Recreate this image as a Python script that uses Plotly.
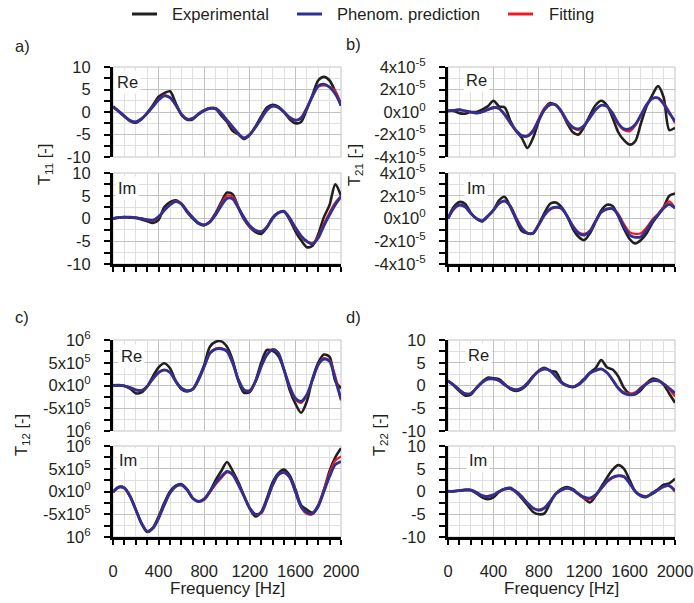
import plotly.graph_objects as go

W, H = 694, 603

FREQ = [0, 50, 100, 150, 200, 250, 300, 350, 400, 450, 500, 550, 600, 650, 700, 750, 800,
        850, 900, 950, 1000, 1050, 1100, 1150, 1200, 1250, 1300, 1350, 1400, 1450, 1500,
        1550, 1600, 1650, 1700, 1750, 1800, 1850, 1900, 1950, 2000]

# ---- T11 (a) ----
A_RE_EXP = [1.2, 0.1, -1.0, -2.0, -2.4, -1.6, -0.2, 1.5, 3.4, 4.2, 4.6, 2.0, -0.6, -1.7, -1.6, -0.4, 0.4, 0.8, 0.7, -0.8,
            -2.2, -4.2, -5.0, -6.0, -5.1, -3.2, -1.0, 1.0, 1.6, 1.2, 0.0, -1.6, -2.5, -2.2, 0.6, 3.8, 7.0, 7.8, 7.0, 4.5, 1.4]
A_RE_PHE = [1.2, 0.2, -0.9, -1.9, -2.2, -1.5, -0.3, 1.2, 2.7, 3.6, 3.2, 1.6, -0.5, -1.6, -1.4, -0.5, 0.3, 0.8, 0.8, -0.3,
            -1.8, -3.3, -4.8, -5.8, -5.0, -3.4, -1.5, 0.4, 1.3, 1.0, 0.0, -1.2, -1.8, -1.4, 0.8, 3.5, 5.8, 6.2, 5.5, 4.0, 1.6]
A_RE_FIT = [1.1, 0.2, -0.9, -1.9, -2.2, -1.5, -0.3, 1.2, 2.8, 3.7, 3.2, 1.5, -0.5, -1.5, -1.4, -0.5, 0.4, 0.9, 0.8, -0.4,
            -2.0, -3.5, -4.9, -5.7, -4.9, -3.3, -1.4, 0.5, 1.3, 1.0, -0.1, -1.3, -1.9, -1.2, 1.0, 3.6, 5.6, 5.9, 5.6, 4.6, 1.8]
A_IM_EXP = [0.0, 0.2, 0.3, 0.2, 0.1, -0.2, -0.6, -1.0, -0.3, 2.5, 3.6, 4.0, 3.2, 1.4, 0.0, -1.1, -1.5, -0.7, 1.2, 3.6,
            5.7, 5.3, 2.4, -0.2, -1.9, -3.0, -3.4, -2.0, 0.2, 1.3, 1.6, -0.3, -2.8, -4.8, -6.3, -6.0, -3.5, 0.3, 3.0, 7.5, 5.0]
A_IM_PHE = [0.0, 0.2, 0.3, 0.3, 0.2, 0.0, -0.3, -0.4, 0.4, 1.8, 3.0, 3.7, 3.2, 1.6, 0.2, -1.0, -1.4, -0.8, 0.8, 2.8,
            4.4, 4.3, 2.3, 0.2, -1.6, -2.6, -2.9, -1.9, 0.0, 1.2, 1.5, 0.1, -2.0, -3.8, -5.0, -5.6, -4.3, -1.6, 0.8, 3.0, 4.8]
A_IM_FIT = [0.0, 0.2, 0.3, 0.3, 0.2, 0.0, -0.3, -0.5, 0.3, 1.8, 3.1, 3.8, 3.3, 1.6, 0.1, -1.0, -1.4, -0.7, 1.0, 3.2,
            5.0, 4.8, 2.5, 0.0, -1.8, -2.7, -2.8, -1.8, 0.1, 1.3, 1.5, 0.0, -2.2, -4.0, -5.1, -5.4, -4.0, -1.2, 1.3, 3.5, 4.9]

# ---- T21 (b), values in units of 1e-5 ----
B_UNIT = 1e-5
B_RE_EXP = [0.1, 0.1, -0.1, -0.15, 0.0, 0.0, 0.2, 0.5, 1.0, 0.5, 0.4, -0.8, -1.7, -2.3, -3.2, -2.3, -0.8, 0.3, 0.8, 0.6,
            0.0, -1.0, -1.8, -2.0, -1.3, -0.3, 0.6, 1.0, 0.6, -0.5, -1.8, -2.5, -2.9, -2.6, -1.0, 0.5, 1.5, 2.3, 1.3, -1.6, -1.4]
B_RE_PHE = [0.1, 0.15, 0.2, 0.1, 0.0, -0.1, 0.0, 0.2, 0.4, 0.3, -0.25, -1.0, -1.65, -2.1, -2.15, -1.7, -0.7, 0.2, 0.65, 0.65,
            0.05, -0.8, -1.35, -1.5, -1.2, -0.5, 0.2, 0.6, 0.5, -0.1, -1.0, -1.5, -1.5, -1.1, -0.25, 0.65, 1.2, 1.25, 0.7, -0.1, -0.8]
B_RE_FIT = [0.1, 0.15, 0.2, 0.1, 0.0, -0.1, 0.0, 0.2, 0.35, 0.3, -0.2, -1.0, -1.7, -2.1, -2.1, -1.6, -0.6, 0.3, 0.7, 0.6,
            0.0, -0.9, -1.4, -1.6, -1.2, -0.5, 0.2, 0.6, 0.5, -0.2, -1.1, -1.6, -1.7, -1.2, -0.3, 0.6, 1.2, 1.25, 0.8, 0.0, -1.0]
B_IM_EXP = [0.0, 1.0, 1.45, 1.3, 0.5, 0.0, -0.25, 0.2, 0.7, 1.6, 1.9, 1.0, -0.1, -1.1, -1.3, -1.3, -0.5, 0.5, 1.3, 1.4,
            1.0, 0.2, -0.9, -1.6, -1.9, -1.3, -0.3, 0.7, 1.2, 1.1, 0.2, -0.9, -1.8, -2.2, -1.9, -1.3, -0.4, 0.3, 1.0, 2.0, 2.2]
B_IM_PHE = [0.0, 0.85, 1.2, 1.05, 0.45, 0.0, -0.2, 0.2, 0.75, 1.35, 1.55, 1.05, 0.0, -0.85, -1.3, -1.3, -0.55, 0.3, 0.85, 1.0,
            0.9, 0.2, -0.7, -1.3, -1.45, -1.15, -0.25, 0.55, 0.85, 0.85, 0.3, -0.7, -1.45, -1.65, -1.6, -1.0, -0.25, 0.3, 0.9, 1.25, 0.9]
B_IM_FIT = [0.0, 0.8, 1.15, 1.0, 0.45, 0.0, -0.2, 0.2, 0.7, 1.3, 1.5, 1.1, 0.1, -0.8, -1.25, -1.25, -0.5, 0.3, 0.8, 0.95,
            0.85, 0.2, -0.6, -1.2, -1.35, -1.05, -0.2, 0.55, 0.8, 0.85, 0.4, -0.5, -1.2, -1.35, -1.3, -0.8, -0.1, 0.4, 1.0, 1.5, 0.9]

# ---- T12 (c), values in units of 1e5 ----
C_UNIT = 1e5
C_RE_EXP = [0.0, 0.0, -0.1, -0.7, -1.7, -1.5, -0.2, 2.0, 4.0, 4.9, 3.8, 1.0, -0.8, -1.3, -0.8, 1.5, 4.5, 8.5, 9.6, 9.7,
            8.5, 5.5, 1.0, -1.6, -1.4, 1.0, 5.0, 7.8, 7.6, 6.5, 3.5, -1.0, -4.0, -6.0, -3.5, 1.5, 5.0, 6.8, 6.3, 1.0, -0.6]
C_RE_PHE = [0.0, 0.05, -0.1, -0.45, -0.95, -1.1, -0.2, 1.5, 2.9, 3.45, 2.85, 0.9, -0.6, -1.15, -0.8, 1.25, 4.2, 7.1, 8.0, 8.05,
            7.5, 4.9, 1.25, -0.95, -1.1, 0.9, 4.2, 6.75, 7.85, 7.1, 3.45, -0.2, -2.8, -3.5, -2.05, 1.25, 4.55, 5.8, 5.3, 1.25, -3.0]
C_RE_FIT = [0.0, 0.05, -0.1, -0.5, -1.0, -1.1, -0.2, 1.4, 2.8, 3.4, 2.9, 1.0, -0.6, -1.2, -0.8, 1.2, 4.1, 7.0, 8.1, 8.2,
            7.6, 5.0, 1.3, -1.0, -1.2, 0.8, 4.1, 6.8, 8.0, 7.2, 3.4, -0.4, -3.0, -3.8, -2.2, 1.2, 4.6, 6.0, 5.5, 2.0, -3.3]
C_IM_EXP = [-0.15, 1.0, 0.8, -1.0, -4.0, -7.0, -8.9, -8.0, -5.5, -2.5, 0.0, 1.3, 1.6, 0.5, -1.5, -2.2, -1.6, 0.0, 2.5, 4.5,
            6.5, 4.5, 2.0, -1.0, -3.8, -5.5, -4.5, -1.5, 2.0, 4.0, 4.8, 3.5, 0.5, -3.0, -4.0, -4.7, -3.0, 0.3, 4.5, 7.5, 9.5]
C_IM_PHE = [-0.15, 0.95, 0.75, -1.1, -4.0, -7.0, -8.8, -8.1, -5.9, -2.95, -0.35, 1.1, 1.45, 0.35, -1.5, -2.2, -1.7, 0.0, 1.85, 3.3,
            4.4, 3.7, 1.45, -1.1, -3.7, -5.0, -4.6, -1.85, 1.45, 3.7, 4.2, 3.15, 0.0, -3.3, -4.6, -4.8, -3.3, 0.0, 3.3, 5.9, 6.6]
C_IM_FIT = [-0.15, 0.9, 0.7, -1.1, -4.0, -6.9, -8.7, -8.0, -5.8, -2.9, -0.3, 1.1, 1.4, 0.3, -1.5, -2.2, -1.8, -0.2, 1.6, 3.0,
            4.2, 3.8, 1.6, -1.0, -3.6, -5.0, -4.8, -2.0, 1.3, 3.6, 4.1, 3.0, -0.2, -3.5, -4.9, -5.0, -3.2, 0.4, 4.0, 6.8, 7.7]

# ---- T22 (d) ----
D_RE_EXP = [1.0, 0.0, -1.2, -2.2, -2.0, -0.5, 0.8, 1.7, 1.6, 1.4, 0.3, -0.8, -1.2, -0.8, 0.3, 2.0, 3.3, 3.9, 3.2, 3.0,
            0.8, 0.0, -0.3, 0.3, 1.5, 2.8, 3.8, 5.6, 4.0, 3.5, 2.0, -0.5, -1.8, -1.9, -1.0, 0.5, 1.5, 1.2, 0.2, -1.8, -3.8]
D_RE_PHE = [1.0, 0.15, -0.95, -1.8, -1.8, -0.6, 0.65, 1.4, 1.45, 1.1, 0.15, -0.6, -0.95, -0.6, 0.5, 2.0, 3.1, 3.6, 3.3, 2.0,
            0.65, -0.05, -0.35, 0.15, 1.25, 2.7, 3.3, 3.65, 2.85, 1.25, -0.6, -1.7, -2.05, -1.8, -0.6, 0.35, 1.0, 1.0, 0.35, -0.6, -1.7]
D_RE_FIT = [1.0, 0.1, -1.0, -1.8, -1.7, -0.5, 0.7, 1.4, 1.4, 1.0, 0.1, -0.6, -0.9, -0.5, 0.6, 2.1, 3.2, 3.7, 3.3, 1.9,
            0.6, -0.1, -0.3, 0.2, 1.3, 2.7, 3.3, 3.6, 2.8, 1.2, -0.5, -1.5, -1.8, -1.5, -0.4, 0.5, 1.1, 1.1, 0.4, -0.8, -2.4]
D_IM_EXP = [0.0, 0.05, 0.2, 0.35, 0.3, -0.4, -1.3, -1.7, -1.3, -0.1, 0.6, 0.8, -0.2, -1.5, -3.0, -4.5, -5.0, -4.8, -2.5, -0.5,
            0.6, 1.0, 0.5, -0.6, -1.5, -2.4, -1.0, 1.0, 3.0, 4.8, 5.8, 5.0, 2.5, 0.0, -1.0, -1.2, -0.3, 0.5, 1.5, 1.8, 2.8]
D_IM_PHE = [0.05, 0.05, 0.2, 0.35, 0.35, -0.2, -0.9, -1.1, -0.75, 0.0, 0.5, 0.65, 0.0, -1.1, -2.55, -3.65, -4.15, -3.65, -2.2, -0.5,
            0.35, 0.75, 0.35, -0.5, -1.25, -1.45, -0.75, 0.75, 2.2, 3.15, 3.5, 3.3, 1.8, 0.0, -0.9, -1.1, -0.5, 0.35, 1.1, 1.25, 0.2]
D_IM_FIT = [0.05, 0.05, 0.2, 0.3, 0.3, -0.2, -0.9, -1.0, -0.7, 0.0, 0.5, 0.6, -0.1, -1.2, -2.6, -3.7, -4.0, -3.5, -2.1, -0.5,
            0.3, 0.7, 0.3, -0.6, -1.4, -1.7, -0.9, 0.6, 2.1, 3.0, 3.4, 3.2, 1.8, 0.0, -0.8, -1.0, -0.5, 0.3, 1.0, 1.3, -0.1]

X_TICKS = [0, 400, 800, 1200, 1600, 2000]
X_TICKTEXT = ['0', '400', '800', '1200', '1600', '2000']

SERIES_NAMES = ['Experimental', 'Phenom. prediction', 'Fitting']
C_EXP, C_PHE, C_FIT = '#231f20', '#2e3192', '#ed1c24'
TXT = '#231f20'
GRID_MAJ, GRID_MIN = '#c2c2c2', '#e0e0e0'
FONT = 'Liberation Sans, Arial, sans-serif'


def px(x):
    return x / W


def py(y):
    return 1 - y / H


XA = [px(113), px(341)]
XB = [px(448), px(675)]
Y_RE_T = [py(157), py(67)]
Y_IM_T = [py(264), py(173)]
Y_RE_B = [py(431), py(340)]
Y_IM_B = [py(537), py(446)]

panels = [
    dict(letter='a)', xdom=XA, ydoms=(Y_RE_T, Y_IM_T), unit=1.0,
         re=(A_RE_EXP, A_RE_PHE, A_RE_FIT), im=(A_IM_EXP, A_IM_PHE, A_IM_FIT),
         yr=10, tv=[-10, -5, 0, 5, 10], tt=['-10', '-5', '0', '5', '10'], minor=2.5,
         ylabel='T<sub>11</sub> [-]', ylab_xy=(45, 165), letter_xy=(22, 46),
         re_xy=(127, 82), im_xy=(127, 188), bottom=False),
    dict(letter='b)', xdom=XB, ydoms=(Y_RE_T, Y_IM_T), unit=B_UNIT,
         re=(B_RE_EXP, B_RE_PHE, B_RE_FIT), im=(B_IM_EXP, B_IM_PHE, B_IM_FIT),
         yr=4e-5, tv=[-4e-5, -2e-5, 0, 2e-5, 4e-5],
         tt=['-4x10<sup>-5</sup>', '-2x10<sup>-5</sup>', '0x10<sup>0</sup>', '2x10<sup>-5</sup>', '4x10<sup>-5</sup>'],
         minor=1e-5, ylabel='T<sub>21</sub> [-]', ylab_xy=(355, 165), letter_xy=(353, 44),
         re_xy=(477, 80), im_xy=(476, 188), bottom=False),
    dict(letter='c)', xdom=XA, ydoms=(Y_RE_B, Y_IM_B), unit=C_UNIT,
         re=(C_RE_EXP, C_RE_PHE, C_RE_FIT), im=(C_IM_EXP, C_IM_PHE, C_IM_FIT),
         yr=1e6, tv=[-1e6, -5e5, 0, 5e5, 1e6],
         tt=['10<sup>6</sup>', '-5x10<sup>5</sup>', '0x10<sup>0</sup>', '5x10<sup>5</sup>', '10<sup>6</sup>'],
         minor=2.5e5, ylabel='T<sub>12</sub> [-]', ylab_xy=(22, 435), letter_xy=(22, 317),
         re_xy=(131, 356), im_xy=(128, 460), bottom=True),
    dict(letter='d)', xdom=XB, ydoms=(Y_RE_B, Y_IM_B), unit=1.0,
         re=(D_RE_EXP, D_RE_PHE, D_RE_FIT), im=(D_IM_EXP, D_IM_PHE, D_IM_FIT),
         yr=10, tv=[-10, -5, 0, 5, 10], tt=['-10', '-5', '0', '5', '10'], minor=2.5,
         ylabel='T<sub>22</sub> [-]', ylab_xy=(380, 435), letter_xy=(353, 317),
         re_xy=(478, 355), im_xy=(478, 460), bottom=True),
]

fig = go.Figure()
layout = dict(width=W, height=H, margin=dict(l=0, r=0, t=0, b=0, autoexpand=False),
              paper_bgcolor='white', plot_bgcolor='white', showlegend=False,
              font=dict(family=FONT, size=16.5, color=TXT))
shapes = []
annotations = []

n = 0
for p in panels:
    for part, ydom in zip(('re', 'im'), p['ydoms']):
        n += 1
        sfx = '' if n == 1 else str(n)
        xa, ya = 'x' + sfx, 'y' + sfx
        exp, phe, fit = p[part]
        u = p['unit']
        for vals, color, width, shape in ((exp, C_EXP, 2.6, 'spline'),
                                          (fit, C_FIT, 2.3, 'spline'),
                                          (phe, C_PHE, 2.8, 'spline')):
            fig.add_trace(go.Scatter(x=FREQ, y=[v * u for v in vals], mode='lines',
                                     line=dict(color=color, width=width, shape=shape,
                                               smoothing=0.8),
                                     xaxis=xa, yaxis=ya, hoverinfo='skip'))
        is_im = part == 'im'
        xkey, ykey = 'xaxis' + sfx, 'yaxis' + sfx
        xdef = dict(domain=p['xdom'], anchor=ya, range=[0, 2000], fixedrange=True,
                    automargin=False,
                    tickmode='array', tickvals=X_TICKS, ticktext=X_TICKTEXT,
                    showgrid=True, gridcolor=GRID_MAJ, gridwidth=1, zeroline=False,
                    minor=dict(tickmode='linear', tick0=0, dtick=100, showgrid=True,
                               gridcolor=GRID_MIN, gridwidth=1,
                               ticks='outside' if is_im else '', ticklen=5, tickwidth=2,
                               tickcolor='black'))
        if is_im:
            xdef.update(showline=True, linecolor='black', linewidth=3, ticks='outside',
                        ticklen=5, tickwidth=2, tickcolor='black',
                        showticklabels=p['bottom'], ticklabelstandoff=12,
                        tickfont=dict(size=16.5, color=TXT))
        else:
            xdef.update(showline=False, ticks='', showticklabels=False)
        ydef = dict(domain=ydom, anchor=xa, range=[-p['yr'], p['yr']], fixedrange=True,
                    automargin=False,
                    tickmode='array', tickvals=p['tv'], ticktext=p['tt'],
                    showgrid=True, gridcolor=GRID_MAJ, gridwidth=1, zeroline=False,
                    showline=True, linecolor='black', linewidth=3,
                    ticks='outside', ticklen=6, tickwidth=2, tickcolor='black',
                    ticklabelstandoff=10, tickfont=dict(size=16.5, color=TXT),
                    minor=dict(tickmode='linear', tick0=0, dtick=p['minor'], showgrid=True,
                               gridcolor=GRID_MIN, gridwidth=1, ticks='outside',
                               ticklen=6, tickwidth=2, tickcolor='black'))
        layout[xkey] = xdef
        layout[ykey] = ydef
        shapes.append(dict(type='rect', xref=xa + ' domain', yref=ya + ' domain',
                           x0=0, x1=1, y0=0, y1=1, line=dict(color=GRID_MAJ, width=1),
                           layer='below'))
        cx, cy = p['re_xy'] if part == 're' else p['im_xy']
        annotations.append(dict(x=px(cx), y=py(cy), xref='paper', yref='paper',
                                text='Re' if part == 're' else 'Im', showarrow=False,
                                xanchor='center', yanchor='middle', bgcolor='white',
                                borderpad=2, font=dict(size=16.5, color=TXT)))
    lx, ly = p['ylab_xy']
    annotations.append(dict(x=px(lx), y=py(ly), xref='paper', yref='paper', text=p['ylabel'],
                            textangle=-90, showarrow=False, xanchor='center', yanchor='middle',
                            font=dict(size=16.5, color=TXT)))
    tx, ty = p['letter_xy']
    annotations.append(dict(x=px(tx), y=py(ty), xref='paper', yref='paper', text=p['letter'],
                            showarrow=False, xanchor='center', yanchor='middle',
                            font=dict(size=16.5, color=TXT)))
    if p['bottom']:
        annotations.append(dict(x=(p['xdom'][0] + p['xdom'][1]) / 2, y=py(588), xref='paper',
                                yref='paper', text='Frequency [Hz]', showarrow=False,
                                xanchor='center', yanchor='middle',
                                font=dict(size=17, color=TXT)))

# manual legend
legend_items = [(SERIES_NAMES[0], C_EXP, 132, 170), (SERIES_NAMES[1], C_PHE, 297, 335),
                (SERIES_NAMES[2], C_FIT, 508, 547)]
for name, color, lx0, tx0 in legend_items:
    shapes.append(dict(type='line', xref='paper', yref='paper', x0=px(lx0), x1=px(lx0 + 25),
                       y0=py(14), y1=py(14), line=dict(color=color, width=3)))
    annotations.append(dict(x=px(tx0), y=py(14), xref='paper', yref='paper', text=name,
                            showarrow=False, xanchor='left', yanchor='middle',
                            font=dict(size=16.6, color=TXT)))

layout['shapes'] = shapes
layout['annotations'] = annotations
fig.update_layout(**layout)
fig.write_html('out.html', config={'displayModeBar': False},
               post_script="document.body.style.margin='0';")
